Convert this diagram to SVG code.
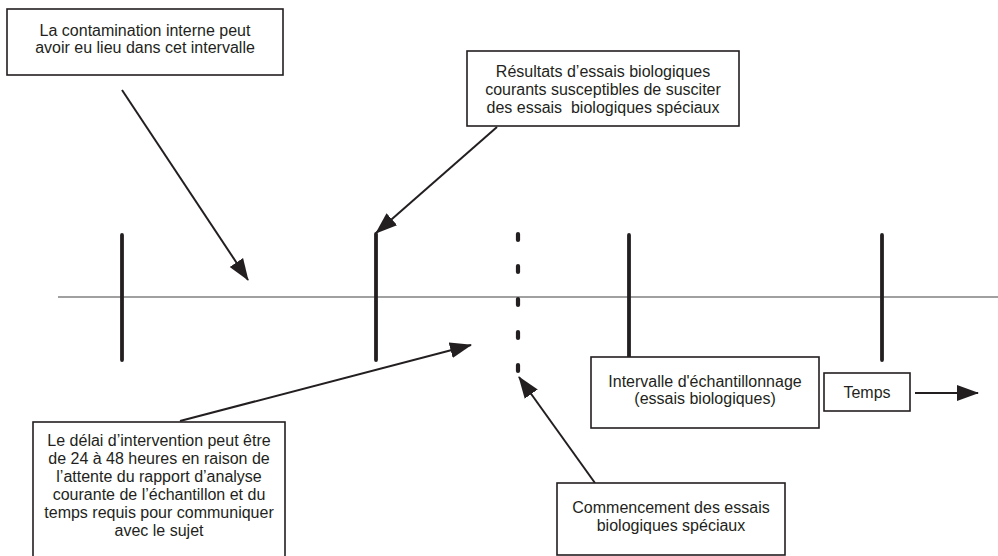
<svg xmlns="http://www.w3.org/2000/svg" width="998" height="556" viewBox="0 0 998 556">
<style>
.box{fill:#fff;stroke:#231f20;stroke-width:1.6}
.t{font-family:"Liberation Sans",Arial,sans-serif;font-size:16px;fill:#231f20;text-anchor:middle}
.tick{stroke:#231f20;stroke-width:3.8;stroke-linecap:round;fill:none}
.dot{stroke:#231f20;stroke-width:4.2;stroke-linecap:round;fill:none}
.arr{stroke:#231f20;stroke-width:2;fill:none;marker-end:url(#ah)}
.axis{stroke:#808080;stroke-width:1.3}
</style>
<defs>
<marker id="ah" markerUnits="userSpaceOnUse" markerWidth="22" markerHeight="18" refX="21" refY="8" orient="auto" viewBox="0 0 22 16">
<path d="M0,0 L22,8 L0,16 z" fill="#231f20"/>
</marker>
</defs>
<rect width="998" height="556" fill="#fff"/>
<g id="axis">
<line class="axis" x1="58" y1="297" x2="998" y2="297"/>
<line class="tick" x1="122" y1="235" x2="122" y2="360"/>
<line class="tick" x1="376" y1="234" x2="376" y2="360"/>
<line class="tick" x1="629" y1="235" x2="629" y2="360"/>
<line class="tick" x1="882" y1="235" x2="882" y2="360"/>
<g id="dotted">
<line class="dot" x1="518" y1="234" x2="518" y2="240"/>
<line class="dot" x1="518" y1="266" x2="518" y2="272"/>
<line class="dot" x1="518" y1="299" x2="518" y2="305"/>
<line class="dot" x1="518" y1="332" x2="518" y2="338"/>
<line class="dot" x1="518" y1="365" x2="518" y2="371"/>
</g>
</g>
<g id="connectors">
<line class="arr" x1="122" y1="90" x2="248" y2="280"/>
<line class="arr" x1="497" y1="127" x2="376" y2="233"/>
<line class="arr" x1="180" y1="421" x2="471" y2="345"/>
<line class="arr" x1="595" y1="483" x2="519" y2="377"/>
<line class="arr" x1="915" y1="393" x2="978" y2="393"/>
</g>
<g id="n1">
<rect class="box" x="7" y="9" width="276" height="66"/>
<text class="t" x="145" y="36">La contamination interne peut</text>
<text class="t" x="145" y="53">avoir eu lieu dans cet intervalle</text>
</g>
<g id="n2">
<rect class="box" x="467" y="51" width="272" height="75"/>
<text class="t" x="603" y="77">Résultats d’essais biologiques</text>
<text class="t" x="603" y="95">courants susceptibles de susciter</text>
<text class="t" x="603" y="112.5" xml:space="preserve">des essais  biologiques spéciaux</text>
</g>
<g id="n3">
<rect class="box" x="33" y="422" width="252" height="140"/>
<text class="t" x="159" y="446">Le délai d’intervention peut être</text>
<text class="t" x="159" y="464">de 24 à 48 heures en raison de</text>
<text class="t" x="159" y="482">l’attente du rapport d’analyse</text>
<text class="t" x="159" y="500">courante de l’échantillon et du</text>
<text class="t" x="159" y="518">temps requis pour communiquer</text>
<text class="t" x="159" y="536">avec le sujet</text>
</g>
<g id="n4">
<rect class="box" x="591" y="357" width="228" height="71"/>
<text class="t" x="705" y="387">Intervalle d'échantillonnage</text>
<text class="t" x="705" y="404">(essais biologiques)</text>
</g>
<g id="n5">
<rect class="box" x="824" y="373" width="86" height="38"/>
<text class="t" x="867" y="398">Temps</text>
</g>
<g id="n6">
<rect class="box" x="557" y="483" width="228" height="72"/>
<text class="t" x="671" y="513">Commencement des essais</text>
<text class="t" x="671" y="531">biologiques spéciaux</text>
</g>
</svg>
